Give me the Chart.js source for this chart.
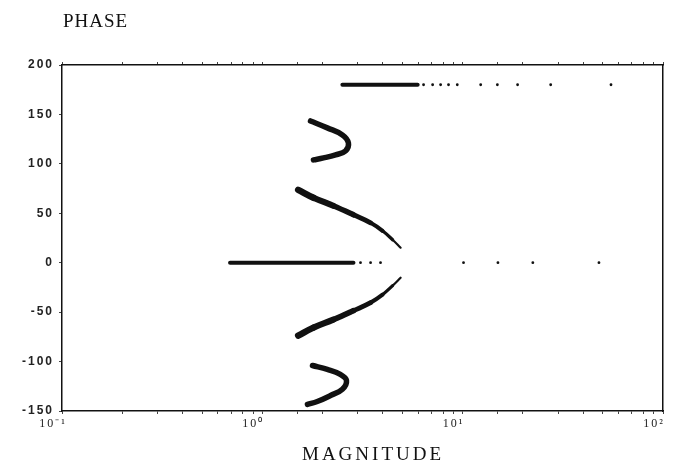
<!DOCTYPE html>
<html>
<head>
<meta charset="utf-8">
<script src="https://cdn.jsdelivr.net/npm/chart.js@4/dist/chart.umd.min.js"></script>
<style>
  html, body { margin: 0; padding: 0; background: #fff; }
  #wrap { width: 676px; height: 466px; position: relative; }
</style>
</head>
<body>
<div id="wrap"><canvas id="phaseplot"></canvas></div>
<script>
// magnitude (x, log) and phase (y, degrees)
const zeroLineMag = [0.69, 1.0, 1.5, 2.0, 2.5, 2.85];
const zeroLinePhase = [0, 0, 0, 0, 0, 0];
const zeroDotsMag = [3.09, 3.47, 3.89, 10.1, 15.0, 22.4, 47.9];
const zeroDotsPhase = [0, 0, 0, 0, 0, 0, 0];

const topLineMag = [2.51, 3.5, 4.5, 5.96];
const topLinePhase = [180, 180, 180, 180];
const topDotsMag = [6.38, 7.08, 7.76, 8.5, 9.4, 12.3, 14.9, 18.8, 27.5, 55];
const topDotsPhase = [180, 180, 180, 180, 180, 180, 180, 180, 180, 180];

const upperVMag = [1.51, 1.80, 2.26, 2.85, 3.47, 3.98, 4.47, 4.90];
const upperVPhase = [73.7, 65.7, 57.6, 48.5, 40.4, 32.3, 23.2, 15.2];
const lowerVMag = [1.51, 1.80, 2.26, 2.85, 3.47, 3.98, 4.47, 4.90];
const lowerVPhase = [-73.7, -65.7, -57.6, -48.5, -40.4, -32.3, -23.2, -15.2];

const upperCMag = [1.74, 2.11, 2.51, 2.69, 2.60, 2.32, 2.02, 1.80];
const upperCPhase = [143.4, 136.4, 129.3, 121.2, 113.1, 109.1, 106, 104];
const lowerCMag = [1.78, 2.11, 2.45, 2.63, 2.51, 2.19, 1.88, 1.68];
const lowerCPhase = [-104, -108, -113, -119, -128, -134.3, -140.4, -143.4];

const yTicks = [-150, -100, -50, 0, 50, 100, 150, 200];
const xTickLabels = { 0.1: "10\u207B\u00B9", 1: "10\u2070", 10: "10\u00B9", 100: "10\u00B2" };

const ink = "#111";

function pts(xs, ys) {
  return xs.map((x, i) => ({ x: x, y: ys[i] }));
}

function curve(xs, ys, width) {
  return {
    data: pts(xs, ys),
    showLine: true,
    borderColor: ink,
    borderWidth: width,
    borderCapStyle: "round",
    borderJoinStyle: "round",
    tension: 0.4,
    pointRadius: 0
  };
}

// V branches get thinner towards the tip
function tapered(xs, ys) {
  const d = curve(xs, ys, 6);
  const n = xs.length - 1;
  d.segment = { borderWidth: c => 6.5 - 5.3 * Math.pow(c.p0DataIndex / n, 1.4) };
  return d;
}

function dots(xs, ys) {
  return {
    data: pts(xs, ys),
    showLine: false,
    backgroundColor: ink,
    borderWidth: 0,
    pointRadius: 1.4
  };
}

// wide-spaced tick digits like the old plotter, plus the two captions
const captions = {
  id: "captions",
  beforeDraw(chart) {
    chart.ctx.letterSpacing = "2px";
  },
  afterDraw(chart) {
    const c = chart.ctx;
    c.save();
    c.fillStyle = "#111";
    c.font = "19px 'Liberation Serif', serif";
    c.textBaseline = "middle";
    c.textAlign = "left";
    c.letterSpacing = "1px";
    c.fillText("PHASE", 63, 22);
    c.letterSpacing = "3px";
    c.fillText("MAGNITUDE", 302, 455);
    c.restore();
    c.letterSpacing = "0px";
  }
};

const tickFont = { family: "'Liberation Sans', Arial, sans-serif", size: 12, weight: "bold" };

document.addEventListener("DOMContentLoaded", function () {
  const ctx = document.getElementById("phaseplot").getContext("2d");
  new Chart(ctx, {
    type: "scatter",
    data: {
      datasets: [
        curve(zeroLineMag, zeroLinePhase, 4),
        dots(zeroDotsMag, zeroDotsPhase),
        curve(topLineMag, topLinePhase, 4),
        dots(topDotsMag, topDotsPhase),
        tapered(upperVMag, upperVPhase),
        tapered(lowerVMag, lowerVPhase),
        curve(upperCMag, upperCPhase, 5.5),
        curve(lowerCMag, lowerCPhase, 5.5)
      ]
    },
    options: {
      responsive: true,
      maintainAspectRatio: false,
      animation: false,
      layout: { padding: { top: 65, right: 13, left: 0, bottom: 0 } },
      plugins: { legend: { display: false }, tooltip: { enabled: false } },
      scales: {
        x: {
          type: "logarithmic",
          min: 0.1,
          max: 100,
          afterFit: s => { s.height = 55; },
          border: { display: true, color: ink, width: 1.5 },
          grid: { drawOnChartArea: false, drawTicks: true, tickLength: 3, color: "#444" },
          ticks: {
            color: "#222",
            font: { family: "'Liberation Serif', serif", size: 12 },
            padding: 3,
            labelOffset: -9,
            maxRotation: 0,
            autoSkip: false,
            callback: v => xTickLabels[v] || ""
          }
        },
        xTop: {
          type: "logarithmic",
          position: "top",
          min: 0.1,
          max: 100,
          afterFit: s => { s.height = 0; },
          border: { display: true, color: ink, width: 1.5 },
          grid: { drawOnChartArea: false, drawTicks: true, tickLength: 3, color: "#444" },
          ticks: { display: false, autoSkip: false, callback: () => "" }
        },
        y: {
          min: -150,
          max: 200,
          afterFit: s => { s.width = 62; },
          afterBuildTicks: s => { s.ticks = yTicks.map(v => ({ value: v })); },
          border: { display: true, color: ink, width: 1.5 },
          grid: { drawOnChartArea: false, drawTicks: true, tickLength: 3, color: "#444" },
          ticks: { color: "#222", font: tickFont, padding: 5 }
        },
        yRight: {
          position: "right",
          min: -150,
          max: 200,
          afterFit: s => { s.width = 0; },
          border: { display: true, color: ink, width: 1.5 },
          grid: { display: false },
          ticks: { display: false }
        }
      }
    },
    plugins: [captions]
  });
});
</script>
</body>
</html>
